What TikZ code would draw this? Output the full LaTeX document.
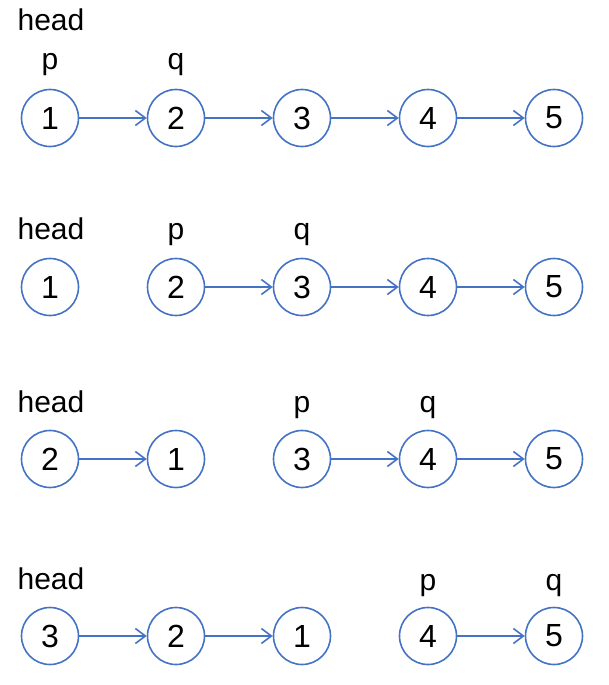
\documentclass[tikz,border=0pt]{standalone}
\usepackage{fontspec}
\setmainfont{Liberation Sans}
\usetikzlibrary{arrows.meta}
\definecolor{lnk}{HTML}{4472C4}
\begin{document}
\begin{tikzpicture}[x=1pt,y=-1pt,
  nd/.style={circle,draw=lnk,line width=1.6pt,minimum size=57pt,inner sep=0pt,font=\fontsize{32}{38}\selectfont},
  lbl/.style={anchor=base,inner sep=0pt,font=\fontsize{30}{36}\selectfont},
  lk/.style={draw=lnk,line width=1.6pt,-{Straight Barb[length=10pt,width=15pt,line width=1.6pt]}}]
\useasboundingbox (0,0) rectangle (609,685);
% row 1
\foreach \i/\x in {1/50,2/176,3/302,4/428,5/554}{\node[nd] (a\i) at (\x,118) {\i};}
\node[lbl] (ah) at (51,31) {head};
\node[lbl] (ap) at (50,70) {p};
\node[lbl] (aq) at (176,70) {q};
\draw[lk] (a1) -- (a2);
\draw[lk] (a2) -- (a3);
\draw[lk] (a3) -- (a4);
\draw[lk] (a4) -- (a5);
% row 2
\node[nd] (b1) at (50,287) {1};
\node[nd] (b2) at (176,287) {2};
\node[nd] (b3) at (302,287) {3};
\node[nd] (b4) at (428,287) {4};
\node[nd] (b5) at (554,287) {5};
\node[lbl] (bh) at (51,239) {head};
\node[lbl] (bp) at (176,239) {p};
\node[lbl] (bq) at (302,239) {q};
\draw[lk] (b2) -- (b3);
\draw[lk] (b3) -- (b4);
\draw[lk] (b4) -- (b5);
% row 3
\node[nd] (c1) at (50,459) {2};
\node[nd] (c2) at (176,459) {1};
\node[nd] (c3) at (302,459) {3};
\node[nd] (c4) at (428,459) {4};
\node[nd] (c5) at (554,459) {5};
\node[lbl] (ch) at (51,412) {head};
\node[lbl] (cp) at (302,412) {p};
\node[lbl] (cq) at (428,412) {q};
\draw[lk] (c1) -- (c2);
\draw[lk] (c3) -- (c4);
\draw[lk] (c4) -- (c5);
% row 4
\node[nd] (d1) at (50,636) {3};
\node[nd] (d2) at (176,636) {2};
\node[nd] (d3) at (302,636) {1};
\node[nd] (d4) at (428,636) {4};
\node[nd] (d5) at (554,636) {5};
\node[lbl] (dh) at (51,589) {head};
\node[lbl] (dp) at (428,590) {p};
\node[lbl] (dq) at (554,590) {q};
\draw[lk] (d1) -- (d2);
\draw[lk] (d2) -- (d3);
\draw[lk] (d4) -- (d5);
\end{tikzpicture}
\end{document}
